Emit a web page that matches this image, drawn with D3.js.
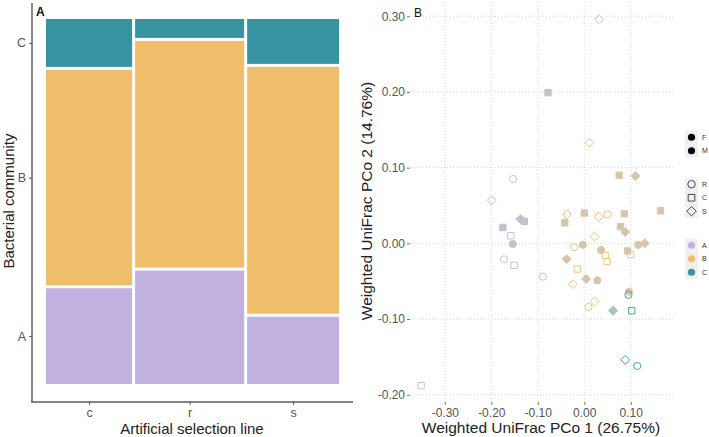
<!DOCTYPE html>
<html>
<head>
<meta charset="utf-8">
<script src="https://cdn.jsdelivr.net/npm/d3@7"></script>
<style>
  body { margin: 0; background: #fff; }
  svg { display: block; font-family: "Liberation Sans", Arial, sans-serif; }
</style>
</head>
<body>
<svg></svg>
<script>
'use strict'

const width = 709
const height = 437

// panel A: mosaic counts
const lines = ['c', 'r', 's']
const communities = ['A', 'B', 'C']
const countA = [4, 6, 3]
const countB = [9, 12, 11]
const countC = [2, 1, 2]

// panel B: PCoA points
const pcoX = [0.032, -0.078, -0.153, -0.199, -0.137, -0.129, -0.175, -0.158, -0.154, -0.173, -0.151, -0.089, -0.351,
    0.011, 0.075, 0.110, -0.037, 0.000, 0.031, 0.050, 0.086, 0.164, -0.042, 0.078, 0.088, 0.022, -0.022, -0.003, 0.036,
    0.045, 0.049, 0.093, 0.100, 0.116, 0.130, -0.038, -0.015, 0.004, 0.028, -0.024, 0.022, 0.009, 0.096,
    0.095, 0.062, 0.102, 0.088, 0.114]
const pcoY = [0.296, 0.199, 0.085, 0.057, 0.032, 0.029, 0.021, 0.010, -0.001, -0.021, -0.029, -0.044, -0.188,
    0.133, 0.090, 0.089, 0.038, 0.040, 0.035, 0.038, 0.039, 0.043, 0.027, 0.022, 0.015, 0.009, -0.005, -0.002, -0.009,
    -0.016, -0.024, -0.010, -0.015, -0.002, 0.000, -0.021, -0.034, -0.047, -0.049, -0.054, -0.077, -0.084, -0.064,
    -0.068, -0.089, -0.089, -0.154, -0.162]
const pcoCommunity = ['A', 'A', 'A', 'A', 'A', 'A', 'A', 'A', 'A', 'A', 'A', 'A', 'A',
    'B', 'B', 'B', 'B', 'B', 'B', 'B', 'B', 'B', 'B', 'B', 'B', 'B', 'B', 'B', 'B',
    'B', 'B', 'B', 'B', 'B', 'B', 'B', 'B', 'B', 'B', 'B', 'B', 'B', 'B',
    'C', 'C', 'C', 'C', 'C']
const pcoLine = ['S', 'C', 'R', 'S', 'S', 'C', 'C', 'C', 'R', 'R', 'C', 'R', 'C',
    'S', 'C', 'S', 'S', 'C', 'S', 'R', 'C', 'C', 'C', 'C', 'S', 'S', 'R', 'R', 'R',
    'C', 'C', 'C', 'C', 'R', 'S', 'S', 'C', 'S', 'R', 'S', 'S', 'R', 'R',
    'R', 'S', 'C', 'S', 'R']
const pcoSex = ['M', 'F', 'M', 'M', 'F', 'F', 'F', 'M', 'F', 'M', 'M', 'M', 'M',
    'M', 'F', 'F', 'M', 'F', 'M', 'M', 'F', 'F', 'F', 'F', 'F', 'M', 'M', 'F', 'F',
    'M', 'M', 'F', 'M', 'F', 'F', 'F', 'M', 'F', 'F', 'M', 'M', 'M', 'F',
    'M', 'F', 'M', 'M', 'M']

const commColor = { A: '#c1b1de', B: '#f0bd6b', C: '#3594a0' }
const hollowStroke = { A: '#c8bde4', B: '#efc47c', C: '#4a9fa9' }
const filledFill = { A: '#c5c1cd', B: '#d4c6ad', C: '#a8c5c1' }
const filledStroke = { A: '#c3bdd3', B: '#d8c7a6', C: '#9cc2c0' }

const svg = d3.select('svg').attr('width', width).attr('height', height)

// ---------------- panel A ----------------
const gap = 3
const mLeft = 46, mRight = 339, mTop = 19, mBottom = 384

const totals = lines.map((l, i) => countA[i] + countB[i] + countC[i])
const grand = d3.sum(totals)
const xFrac = d3.scaleLinear().domain([0, 1]).range([0, (mRight - mLeft) - gap * (lines.length - 1)])
const yFrac = d3.scaleLinear().domain([0, 1]).range([0, (mBottom - mTop) - gap * (communities.length - 1)])

const cells = []
let cumX = 0
lines.forEach((l, i) => {
    const w = totals[i] / grand
    const x0 = mLeft + xFrac(cumX) + i * gap
    const counts = [countA[i], countB[i], countC[i]]
    let cumY = 0
    communities.forEach((c, j) => {
        const h = counts[j] / totals[i]
        const yb = mBottom - yFrac(cumY) - j * gap
        cells.push({ line: l, comm: c, x: x0, w: xFrac(w), y: yb - yFrac(h), h: yFrac(h) })
        cumY += h
    })
    cumX += w
})

const gA = svg.append('g')
gA.selectAll('rect.cell')
    .data(cells)
    .enter()
    .append('rect')
    .attr('class', 'cell')
    .attr('x', d => d.x)
    .attr('y', d => d.y)
    .attr('width', d => d.w)
    .attr('height', d => d.h)
    .attr('fill', d => commColor[d.comm])

// axes for mosaic: labels at centre of columns / first column's segments
const xCat = d3.scaleOrdinal().domain(lines)
    .range(lines.map(l => { const c = cells.find(d => d.line === l); return c.x + c.w / 2 }))
const yCat = d3.scaleOrdinal().domain(communities)
    .range(communities.map(k => { const c = cells.find(d => d.line === lines[0] && d.comm === k); return c.y + c.h / 2 }))

const axColor = '#5a5a5a'
const xAxA = gA.append('g').attr('transform', 'translate(0,402)')
    .call(d3.axisBottom(xCat).tickSize(3).tickPadding(3))
const yAxA = gA.append('g').attr('transform', 'translate(32,0)')
    .call(d3.axisLeft(yCat).tickSize(3).tickPadding(3))
for (const ax of [xAxA, yAxA]) {
    ax.select('.domain').remove()
    ax.selectAll('line').attr('stroke', axColor)
    ax.selectAll('text').attr('fill', '#555').attr('font-size', 12.5)
        .attr('font-family', '"Liberation Sans", Arial, sans-serif')
}
gA.append('line').attr('x1', 32).attr('x2', 32).attr('y1', 3).attr('y2', 402.5)
    .attr('stroke', axColor).attr('stroke-width', 1.4)
gA.append('line').attr('x1', 31.3).attr('x2', 353).attr('y1', 402).attr('y2', 402)
    .attr('stroke', axColor).attr('stroke-width', 1.4)

gA.append('text').attr('x', 36).attr('y', 16).text('A')
    .attr('font-size', 12).attr('font-weight', 'bold').attr('fill', '#111')
gA.append('text').attr('transform', 'translate(14,201) rotate(-90)')
    .attr('text-anchor', 'middle').attr('font-size', 15).attr('fill', '#222')
    .text('Bacterial community')
gA.append('text').attr('x', 192).attr('y', 434)
    .attr('text-anchor', 'middle').attr('font-size', 15).attr('fill', '#222')
    .text('Artificial selection line')

// ---------------- panel B ----------------
const pLeft = 411, pRight = 673, pTop = 2, pBottom = 402
const x = d3.scaleLinear().domain([-0.3727, 0.1908]).range([pLeft, pRight])
const y = d3.scaleLinear().domain([-0.2096, 0.3188]).range([pBottom, pTop])
const xTicks = [-0.3, -0.2, -0.1, 0, 0.1]
const yTicks = [-0.2, -0.1, 0, 0.1, 0.2, 0.3]

const gB = svg.append('g')
gB.append('g').selectAll('line')
    .data(xTicks).enter().append('line')
    .attr('x1', d => x(d)).attr('x2', d => x(d))
    .attr('y1', pTop).attr('y2', pBottom)
    .attr('stroke', '#d4d4d4').attr('stroke-width', 0.9).attr('stroke-dasharray', '1,2')
gB.append('g').selectAll('line')
    .data(yTicks).enter().append('line')
    .attr('x1', pLeft).attr('x2', pRight)
    .attr('y1', d => y(d)).attr('y2', d => y(d))
    .attr('stroke', '#d4d4d4').attr('stroke-width', 0.9).attr('stroke-dasharray', '1,2')

const fmt = d3.format('.2f')
const xAxB = gB.append('g').attr('transform', `translate(0,${pBottom})`)
    .call(d3.axisBottom(x).tickValues(xTicks).tickFormat(d => fmt(d).replace('−', '-')).tickSize(3).tickPadding(3))
const yAxB = gB.append('g').attr('transform', `translate(${pLeft - 1},0)`)
    .call(d3.axisLeft(y).tickValues(yTicks).tickFormat(d => fmt(d).replace('−', '-')).tickSize(3).tickPadding(2))
for (const ax of [xAxB, yAxB]) {
    ax.select('.domain').remove()
    ax.selectAll('line').attr('stroke', '#777')
    ax.selectAll('text').attr('fill', '#555').attr('font-size', 12)
        .attr('font-family', '"Liberation Sans", Arial, sans-serif')
}

const diamond = { draw(ctx, size) { const r = Math.sqrt(size / 2); ctx.moveTo(0, -r); ctx.lineTo(r, 0); ctx.lineTo(0, r); ctx.lineTo(-r, 0); ctx.closePath() } }
const shapeOf = { R: d3.symbolCircle, C: d3.symbolSquare, S: diamond }
const sizeOf = { R: 40, C: 40, S: 40 }

const pts = pcoX.map((v, i) => ({ x: v, y: pcoY[i], comm: pcoCommunity[i], line: pcoLine[i], sex: pcoSex[i] }))
gB.append('g').selectAll('path')
    .data(pts).enter().append('path')
    .attr('transform', d => `translate(${x(d.x)},${y(d.y)})`)
    .attr('d', d => d3.symbol().type(shapeOf[d.line]).size(sizeOf[d.line])())
    .attr('fill', d => d.sex === 'F' ? filledFill[d.comm] : 'none')
    .attr('stroke', d => d.sex === 'F' ? filledStroke[d.comm] : hollowStroke[d.comm])
    .attr('stroke-width', 1)

gB.append('text').attr('x', 414).attr('y', 17).text('B')
    .attr('font-size', 12).attr('fill', '#111')
gB.append('text').attr('transform', 'translate(372,201) rotate(-90)')
    .attr('text-anchor', 'middle').attr('font-size', 15.5).attr('fill', '#222')
    .text('Weighted UniFrac PCo 2 (14.76%)')
gB.append('text').attr('x', 541).attr('y', 433)
    .attr('text-anchor', 'middle').attr('font-size', 15.5).attr('fill', '#222')
    .text('Weighted UniFrac PCo 1 (26.75%)')

// ---------------- legends ----------------
const legendSex = ['F', 'M']
const legendLine = ['R', 'C', 'S']
const legendComm = ['A', 'B', 'C']
const keyH = 13.5
const groups = [
    { top: 130.5, keys: legendSex, draw: (g, k) => g.append('circle').attr('r', 3.6).attr('fill', '#000') },
    { top: 177.5, keys: legendLine, draw: (g, k) => g.append('path').attr('d', d3.symbol().type(shapeOf[k]).size(44)()).attr('fill', 'none').attr('stroke', '#333').attr('stroke-width', 0.9) },
    { top: 238.5, keys: legendComm, draw: (g, k) => g.append('circle').attr('r', 3.6).attr('fill', commColor[k]) }
]
const gL = svg.append('g')
groups.forEach(grp => {
    gL.append('rect').attr('x', 685).attr('y', grp.top).attr('width', 13).attr('height', keyH * grp.keys.length)
        .attr('fill', '#f0f0f0')
    grp.keys.forEach((k, i) => {
        const cy = grp.top + keyH * (i + 0.5)
        const g = gL.append('g').attr('transform', `translate(691.5,${cy})`)
        grp.draw(g, k)
        gL.append('text').attr('x', 702).attr('y', cy + 2.5).text(k)
            .attr('font-size', 7).attr('fill', '#333')
    })
})
</script>
</body>
</html>
